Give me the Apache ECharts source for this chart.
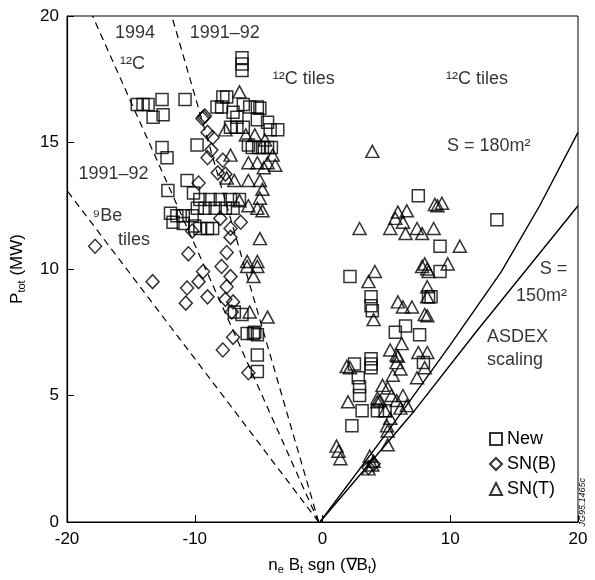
<!DOCTYPE html>
<html><head><meta charset="utf-8">
<script src="https://cdn.jsdelivr.net/npm/echarts@6/dist/echarts.min.js"></script>
<style>html,body{margin:0;background:#fff}#c{width:595px;height:580px}</style>
</head><body><div id="c"></div>
<script>
// ---- axis ----
const xRange = [-20, 20];
const yRange = [0, 20];
const xTickStep = 10;
const yTickStep = 5;

// ---- "New" (squares) ----
const newPts = [
 [-14.5,16.5],[-14.05,16.5],[-13.65,16.5],[-12.56,16.7],[-10.76,16.7],[-13.26,16.0],[-12.48,16.1],
 [-12.56,14.8],[-12.17,14.4],[-9.82,14.9],[-8.26,16.4],[-7.8,16.8],
 [-6.3,18.35],[-6.3,18.1],[-6.3,17.85],
 [-7.5,16.8],[-7.9,16.4],[-7.0,16.2],[-6.2,16.5],[-5.7,16.4],[-5.1,16.4],[-4.9,16.35],[-6.7,16.0],
 [-7.2,15.6],[-6.7,15.6],[-6.2,15.6],[-5.1,15.9],[-4.3,15.8],[-4.1,15.5],[-3.5,15.5],
 [-5.8,14.9],[-5.5,14.8],[-5.0,14.8],[-4.7,14.8],[-4.3,14.8],[-4.0,14.8],
 [-10.6,13.5],[-12.1,13.1],[-10.1,13.0],
 [-9.6,12.75],[-8.8,12.75],[-8.0,12.75],[-7.2,12.75],[-6.5,12.75],
 [-9.8,12.4],[-9.2,12.4],[-8.4,12.4],[-7.6,12.4],[-7.0,12.4],
 [-11.9,12.2],[-11.4,12.1],[-10.9,12.1],[-10.2,12.1],
 [-11.7,11.85],[-10.9,11.8],
 [-10.0,11.7],[-9.6,11.6],[-9.0,11.6],[-8.6,11.6],
 [-6.9,8.3],[-6.3,8.2],[-5.9,7.45],[-5.4,7.45],[-5.1,7.4],[-5.3,7.5],[-5.1,6.6],[-5.1,5.95],
 [7.5,12.9],[13.65,11.95],[9.2,10.9],[2.15,9.7],[3.8,8.9],[3.8,8.55],[3.9,8.35],
 [6.5,7.75],[5.7,7.5],[7.6,7.4],[9.2,9.9],[8.5,8.9],[7.9,6.3],
 [2.5,6.25],[2.8,5.7],[2.9,5.35],[2.9,5.0],[2.3,3.8],[3.1,4.4],
 [3.8,6.45],[3.8,6.25],[3.8,6.1],[4.3,4.4],[4.9,4.4],[8.3,8.9]
];

// ---- "SN(B)" (diamonds) ----
const snbPts = [
 [-9.3,16.0],[-9.4,15.95],[-9.2,16.05],
 [-8.6,15.2],[-8.7,14.7],[-9.0,14.4],[-9.0,15.4],
 [-7.8,14.3],[-8.2,13.8],[-7.6,13.75],[-9.7,13.4],
 [-8.0,12.0],[-7.2,11.6],[-6.4,11.85],[-10.2,11.5],
 [-17.8,10.9],[-10.5,10.6],[-7.5,10.65],[-7.2,11.25],
 [-7.9,10.1],[-7.2,9.7],[-9.35,9.9],[-9.7,9.5],[-7.5,9.3],[-10.6,9.25],[-13.3,9.5],
 [-9.0,8.9],[-10.7,8.65],[-7.6,8.8],[-7.0,8.7],[-7.1,8.3],[-7.0,7.3],[-7.8,6.8],[-5.8,5.9],
 [3.6,2.15],[4.0,2.3]
];

// ---- "SN(T)" (triangles) ----
const sntPts = [
 [-6.5,17.0],[-5.3,15.3],[-7.6,15.5],[-6.0,15.3],[-4.5,15.1],[-3.9,14.5],
 [-5.8,14.2],[-5.1,14.2],[-4.3,14.2],[-3.7,14.1],[-4.6,14.0],
 [-7.2,14.5],[-7.5,13.6],[-6.9,13.5],[-5.8,13.5],[-4.9,13.5],[-4.7,13.15],[-4.9,12.8],[-5.1,12.4],
 [-6.5,12.7],[-5.8,12.5],[-4.7,12.3],[-4.9,11.2],
 [-5.9,10.3],[-5.1,10.3],[-5.9,10.1],[-5.1,10.1],[-5.4,9.7],[-4.3,8.1],[-5.7,8.3],
 [3.9,14.65],[8.8,12.55],[9.35,12.6],[9.0,12.5],[5.9,12.25],[6.6,12.3],[5.7,12.0],[6.3,11.85],
 [5.3,11.6],[6.5,11.4],[7.4,11.6],[7.8,11.4],[8.7,11.6],[2.9,11.6],[10.75,10.9],
 [3.6,9.5],[4.1,9.9],[4.0,8.0],[5.9,8.7],[6.3,8.5],[7.0,8.5],[8.0,10.2],[8.2,10.0],[8.3,9.9],
 [9.8,10.2],[7.8,10.1],[8.2,9.3],[8.2,8.9],[8.0,8.2],[8.2,8.15],
 [5.3,6.8],[5.8,6.6],[5.8,6.3],[6.1,6.05],[6.2,7.05],[5.9,6.55],[7.5,6.7],[8.2,6.7],[8.0,6.1],
 [7.4,5.7],[5.5,5.8],[4.7,5.4],[5.1,5.3],[4.3,4.9],[4.5,4.8],[5.4,5.0],[6.3,5.0],[6.6,4.6],
 [5.8,4.8],[6.1,4.5],[4.3,4.75],[4.9,4.4],[5.3,4.1],[5.05,3.8],[5.1,3.6],[5.1,3.05],
 [3.7,2.6],[4.0,2.4],[3.9,2.25],[3.6,2.1],
 [1.1,3.0],[1.25,2.8],[1.4,2.5],
 [2.15,6.1],[2.0,4.75],[1.9,6.15]
];

// ---- reference lines ----
const dash1994Be = [[-0.3,0],[-5.4,3.4],[-20,13.1]];
const dashMid = [[-0.3,0],[-18,20]];
const dashRight = [[-0.3,0],[-11.8,20]];
const solid180 = [[-0.2,0],[5,3.5],[10,7.0],[14,9.9],[17,12.5],[20,15.4]];
const solid150 = [[-0.2,0],[7.2,4.4],[12,7.5],[20,12.5]];

// ---- annotation texts (anchor = left edge, middle) ----
const notes = [
 [-16.25,19.33,'1994'],
 [-15.85,18.1,'¹²C'],
 [-10.4,19.33,'1991–92'],
 [-3.9,17.5,'¹²C tiles'],
 [9.66,17.5,'¹²C tiles'],
 [9.74,14.88,'S = 180m²'],
 [-19.1,13.74,'1991–92'],
 [-18.0,12.1,'⁹Be'],
 [-16.0,11.14,'tiles'],
 [17.0,10.0,'S ='],
 [15.14,8.94,'150m²'],
 [12.87,7.32,'ASDEX'],
 [12.87,6.42,'scaling']
];

const F = '"Liberation Sans", Arial, Helvetica, sans-serif';
const INK = '#000';
const mk = {color:'rgba(0,0,0,0)', borderColor:INK, borderWidth:1.5};
const subStyle = {fontSize:11, verticalAlign:'bottom', padding:[8,0,0,0], fontFamily:F, color:INK};

const chart = echarts.init(document.getElementById('c'));
chart.setOption({
  animation:false,
  backgroundColor:'#fff',
  grid:{left:67, right:17, top:16, bottom:56, show:true, borderColor:INK, borderWidth:1, backgroundColor:'transparent'},
  xAxis:{type:'value', min:xRange[0], max:xRange[1], interval:xTickStep,
    axisLine:{onZero:false, lineStyle:{color:INK,width:1.2}},
    axisTick:{inside:true, length:7, lineStyle:{color:INK}},
    splitLine:{show:false},
    axisLabel:{color:INK, fontFamily:F, fontSize:17, margin:9},
    name:'n{sub|e} B{sub|t} sgn (∇B{sub|t})', nameLocation:'middle', nameGap:34,
    nameTextStyle:{color:INK, fontFamily:F, fontSize:17, rich:{sub:subStyle}}
  },
  yAxis:{type:'value', min:yRange[0], max:yRange[1], interval:yTickStep,
    axisLine:{onZero:false, lineStyle:{color:INK,width:1.2}},
    axisTick:{inside:true, length:7, lineStyle:{color:INK}},
    splitLine:{show:false},
    axisLabel:{color:INK, fontFamily:F, fontSize:17, margin:8},
    name:'P{sub|tot} (MW)', nameLocation:'middle', nameGap:40,
    nameTextStyle:{color:INK, fontFamily:F, fontSize:17, rich:{sub:subStyle}}
  },
  legend:{orient:'vertical', left:484, top:425, itemWidth:12, itemHeight:12, itemGap:7,
    textStyle:{color:INK, fontFamily:F, fontSize:18},
    data:['New','SN(B)','SN(T)']},
  graphic:[{type:'text', left:578, top:478, rotation:Math.PI/2,
    style:{text:'JG95.1465c', font:'italic 9px '+F, fill:INK}}],
  series:[
    {type:'line', data:dash1994Be, symbol:'none', lineStyle:{color:INK,width:1.2,type:[7,5]}, silent:true},
    {type:'line', data:dashMid, symbol:'none', lineStyle:{color:INK,width:1.2,type:[7,5]}, silent:true},
    {type:'line', data:dashRight, symbol:'none', lineStyle:{color:INK,width:1.2,type:[7,5]}, silent:true},
    {type:'line', data:solid180, symbol:'none', lineStyle:{color:INK,width:1.4}, silent:true},
    {type:'line', data:solid150, symbol:'none', lineStyle:{color:INK,width:1.4}, silent:true},
    {name:'New', type:'scatter', data:newPts, symbol:'rect', symbolSize:12, itemStyle:mk},
    {name:'SN(B)', type:'scatter', data:snbPts, symbol:'diamond', symbolSize:[13,14], itemStyle:mk},
    {name:'SN(T)', type:'scatter', data:sntPts, symbol:'triangle', symbolSize:[13,12], itemStyle:mk},
    {type:'scatter', data:notes.map(n=>({value:[n[0],n[1]], t:n[2]})), symbolSize:0.01, silent:true,
      label:{show:true, position:'inside', align:'left', verticalAlign:'middle', formatter:p=>p.data.t,
        color:INK, fontFamily:F, fontSize:18}}
  ]
});
</script></body></html>
